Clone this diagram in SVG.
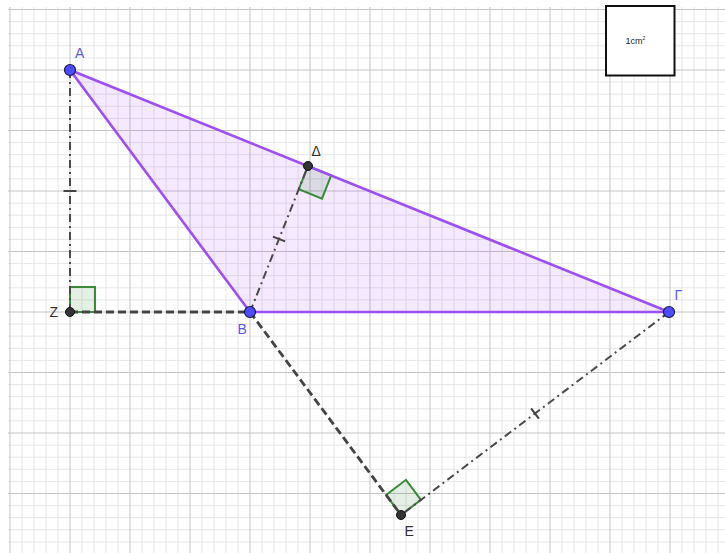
<svg xmlns="http://www.w3.org/2000/svg" width="725" height="553" viewBox="0 0 725 553">
<defs>
<style>
.minor{stroke:#e6e6e6;stroke-width:1;fill:none}
.major{stroke:#c4c4c4;stroke-width:1;fill:none}
.tri{fill:#9933ff;fill-opacity:0.11;stroke:none}
.edge{stroke:#9d4ff2;stroke-width:2.6;fill:none;stroke-linecap:round}
.dash{stroke:#444;stroke-width:2.8;fill:none;stroke-dasharray:8 4}
.dashdot{stroke:#4a4a4a;stroke-width:2;fill:none;stroke-dasharray:8 4 2 4}
.tick{stroke:#444;stroke-width:2;fill:none}
.ra{fill:#006400;fill-opacity:0.1;stroke:#3a8a3a;stroke-width:2;stroke-linejoin:miter}
.pt-free{fill:#4d4dff;stroke:#1a1a4d;stroke-width:1.2}
.pt-dep{fill:#333;stroke:#111;stroke-width:1}
.lbl{font-family:"Liberation Sans","DejaVu Sans",sans-serif;font-size:14px}
.blue{fill:#5a5ae6}
.dark{fill:#333}
</style>
</defs>
<rect width="725" height="553" fill="#fff"/>
<g id="grid">
<path class="minor" d="M22 7V553M34 7V553M46 7V553M58 7V553M82 7V553M94 7V553M106 7V553M118 7V553M142 7V553M154 7V553M166 7V553M178 7V553M202 7V553M214 7V553M226 7V553M238 7V553M262 7V553M274 7V553M286 7V553M298 7V553M322 7V553M334 7V553M346 7V553M358 7V553M382 7V553M394 7V553M406 7V553M418 7V553M442 7V553M454 7V553M466 7V553M478 7V553M502 7V553M514 7V553M526 7V553M538 7V553M562 7V553M574 7V553M586 7V553M598 7V553M622 7V553M634 7V553M646 7V553M658 7V553M682 7V553M694 7V553M706 7V553M718 7V553
M8 21.6H725M8 33.7H725M8 45.8H725M8 57.9H725M8 82.1H725M8 94.2H725M8 106.3H725M8 118.4H725M8 142.6H725M8 154.7H725M8 166.8H725M8 178.9H725M8 203.1H725M8 215.2H725M8 227.3H725M8 239.4H725M8 263.6H725M8 275.7H725M8 287.8H725M8 299.9H725M8 324.1H725M8 336.2H725M8 348.3H725M8 360.4H725M8 384.6H725M8 396.7H725M8 408.8H725M8 420.9H725M8 445.1H725M8 457.2H725M8 469.3H725M8 481.4H725M8 505.6H725M8 517.7H725M8 529.8H725M8 541.9H725"/>
<path class="major" d="M10 7V553M70 7V553M130 7V553M190 7V553M250 7V553M310 7V553M370 7V553M430 7V553M490 7V553M550 7V553M610 7V553M670 7V553
M8 9.5H725M8 70H725M8 130.5H725M8 191H725M8 251.5H725M8 312H725M8 372.5H725M8 433H725M8 493.5H725"/>
</g>
<g id="legend">
<rect x="606" y="6" width="68.5" height="69.5" fill="#fff" stroke="#111" stroke-width="2"/>
<text x="625.5" y="44" font-family="Liberation Sans, DejaVu Sans, sans-serif" font-size="9" fill="#222">1cm<tspan font-size="5" dy="-4">2</tspan></text>
</g>
<g id="triangle-fill">
<polygon class="tri" points="70,70 250,312 669,312"/>
</g>
<g id="right-angles">
<polygon class="ra" points="70,312 95,312 95,287 70,287"/>
<polygon class="ra" points="308,166 331.2,175.4 322,198.6 298.8,189.2"/>
<polygon class="ra" points="401,515 386.1,494.9 406,479.8 420.9,499.9"/>
</g>
<g id="connectors">
<line class="dash" x1="70" y1="312" x2="250" y2="312"/>
<line class="dash" x1="250" y1="312" x2="401" y2="515"/>
<line class="dashdot" x1="70" y1="70" x2="70" y2="312"/>
<line class="dashdot" x1="250" y1="312" x2="308" y2="166"/>
<line class="dashdot" x1="669" y1="312" x2="401" y2="515"/>
<line class="tick" x1="63.5" y1="191" x2="76.5" y2="191"/>
<line class="tick" x1="272.9" y1="236.6" x2="285.1" y2="241.4"/>
<line class="tick" x1="531.1" y1="408.3" x2="538.9" y2="418.7"/>
<line class="edge" x1="70" y1="70" x2="250" y2="312"/>
<line class="edge" x1="250" y1="312" x2="669" y2="312"/>
<line class="edge" x1="70" y1="70" x2="669" y2="312"/>
</g>
<g id="node-A">
<circle class="pt-free" cx="70" cy="70" r="5.5"/>
<text class="lbl blue" x="75" y="58">A</text>
</g>
<g id="node-B">
<circle class="pt-free" cx="250" cy="312" r="5.5"/>
<text class="lbl blue" x="237.5" y="334">B</text>
</g>
<g id="node-Gamma">
<circle class="pt-free" cx="669" cy="312" r="5.5"/>
<text class="lbl blue" x="674.5" y="299.5">Γ</text>
</g>
<g id="node-Z">
<circle class="pt-dep" cx="70" cy="312" r="4.5"/>
<text class="lbl dark" x="49.5" y="316.5">Z</text>
</g>
<g id="node-Delta">
<circle class="pt-dep" cx="308" cy="166" r="4.5"/>
<text class="lbl dark" x="311.5" y="156">Δ</text>
</g>
<g id="node-E">
<circle class="pt-dep" cx="401" cy="515" r="4.5"/>
<text class="lbl dark" x="404.5" y="536">E</text>
</g>
</svg>
